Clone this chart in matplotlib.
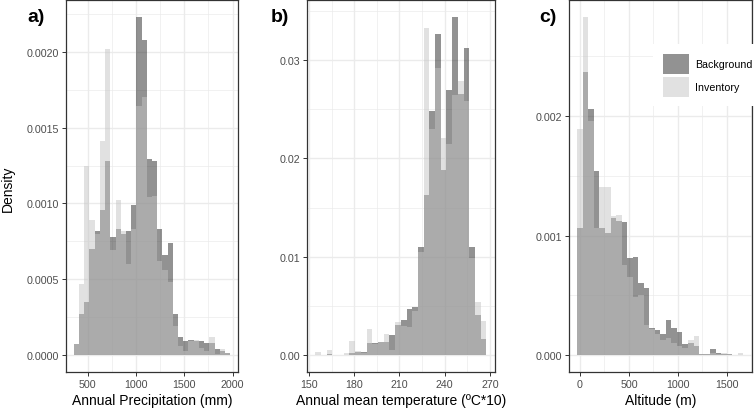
import numpy as np
import matplotlib
matplotlib.use("Agg")
import matplotlib.pyplot as plt
from matplotlib.patches import Patch

plt.rcParams['font.family'] = ['Liberation Sans', 'DejaVu Sans']

# histogram densities, 30 bins per variable
precip_range = (355, 1975)
precip_background = [0.00007, 0.00027, 0.00035, 0.00070, 0.00082, 0.00096, 0.00128, 0.00078, 0.00083, 0.00080,
                     0.00082, 0.00099, 0.00223, 0.00208, 0.00129, 0.00128, 0.00083, 0.00066, 0.00074, 0.00027,
                     0.00012, 0.000094, 0.00010, 0.00009, 0.00009, 0.00008, 0.00008, 0.00004, 0.00003, 0.000015]
precip_inventory = [0.00007, 0.00047, 0.00125, 0.00089, 0.00080, 0.00141, 0.00202, 0.00069, 0.00102, 0.00082,
                    0.00060, 0.00083, 0.00164, 0.00170, 0.00104, 0.00105, 0.00062, 0.00056, 0.00048, 0.00019,
                    0.00006, 0.00003, 0.000095, 0.00010, 0.00005, 0.00003, 0.00012, 0.00001, 0.00004, 0.000015]

temp_range = (154.2, 267.6)
temp_background = [0, 0, 0.0001, 0, 0, 0.00003, 0.00025, 0.00027, 0.00027, 0.00125,
                   0.0012, 0.00135, 0.00135, 0.0020, 0.0031, 0.0036, 0.0047, 0.0049, 0.01095, 0.0163,
                   0.0248, 0.0327, 0.0188, 0.0270, 0.0344, 0.0266, 0.0312, 0.0110, 0.0041, 0.0016]
temp_inventory = [0.00035, 0, 0.00055, 0, 0, 0.00024, 0.00142, 0.00037, 0.00024, 0.0027,
                  0.0011, 0.0013, 0.0021, 0.00047, 0.0034, 0.0030, 0.0029, 0.0045, 0.0105, 0.0333,
                  0.0230, 0.0292, 0.0221, 0.0215, 0.0265, 0.0279, 0.0258, 0.0099, 0.0054, 0.0035]

alt_range = (-27.6, 1670.6)
alt_background = [0.00106, 0.00237, 0.00206, 0.00154, 0.00106, 0.00102, 0.00115, 0.00112, 0.00111, 0.00081,
                  0.00082, 0.00060, 0.00056, 0.00023, 0.00021, 0.00018, 0.00029, 0.00023, 0.00019, 0.00009,
                  0.00010, 0.00008, 0.00001, 0.00001, 0.00005, 0.00002, 0.000005, 0.000005, 0, 0]
alt_inventory = [0.00189, 0.00283, 0.00196, 0.00106, 0.00141, 0.00141, 0.00116, 0.00117, 0.00075, 0.00065,
                 0.00049, 0.00050, 0.00025, 0.00022, 0.00018, 0.00013, 0.00014, 0.00010, 0.00008, 0.00006,
                 0.00013, 0.00016, 0.00001, 0.00001, 0.00002, 0.00001, 0.000017, 0.000008, 0, 0.00002]

precip_xticks = [500, 1000, 1500, 2000]
precip_yticks = [0, 0.0005, 0.0010, 0.0015, 0.0020]
temp_xticks = [150, 180, 210, 240, 270]
temp_yticks = [0, 0.01, 0.02, 0.03]
alt_xticks = [0, 500, 1000, 1500]
alt_yticks = [0, 0.001, 0.002]

group_labels = ['Background', 'Inventory']
panel_tags = ['a)', 'b)', 'c)']

BG_COLOR = '#272727'
INV_COLOR = '#c5c5c5'
GRID = '#ebebeb'
DARK = '#333333'

W, H = 754, 414
fig = plt.figure(figsize=(W / 100, H / 100), dpi=100)
fig.patch.set_facecolor('white')


def px_rect(left, top, right, bottom):
    return [left / W, 1 - bottom / H, (right - left) / W, (bottom - top) / H]


def midpoints(ticks):
    step = ticks[1] - ticks[0]
    return [t + step / 2 for t in [ticks[0] - step] + list(ticks)]


def draw_panel(ax, rng, bg, inv, xticks, yticks, ydec, xlabel):
    edges = np.linspace(rng[0], rng[1], len(bg) + 1)
    ax.bar(edges[:-1], bg, width=np.diff(edges), align='edge', color=BG_COLOR,
           alpha=0.5, linewidth=0, zorder=2)
    ax.bar(edges[:-1], inv, width=np.diff(edges), align='edge', color=INV_COLOR,
           alpha=0.5, linewidth=0, zorder=3)

    ax.set_xticks(xticks)
    ax.set_yticks(yticks)
    ax.set_yticklabels([f'{v:.{ydec}f}' for v in yticks])
    ax.set_xticks(midpoints(xticks), minor=True)
    ax.set_yticks(midpoints(yticks), minor=True)

    # ggplot-style 5% expansion, set after the ticks so they don't widen it
    span = rng[1] - rng[0]
    ax.set_xlim(rng[0] - 0.05 * span, rng[1] + 0.05 * span)
    top = max(max(bg), max(inv))
    ax.set_ylim(-0.05 * top, 1.05 * top)

    ax.grid(which='major', color=GRID, linewidth=1.0, zorder=0)
    ax.grid(which='minor', color=GRID, linewidth=0.5, zorder=0)
    ax.set_axisbelow(True)

    ax.tick_params(which='major', direction='out', length=3, width=0.7, color=DARK,
                   labelcolor='#4d4d4d', labelsize=7.7, pad=2)
    ax.tick_params(which='minor', length=0)
    for spine in ax.spines.values():
        spine.set_color(DARK)
        spine.set_linewidth(0.9)

    ax.set_xlabel(xlabel, fontsize=10, color='black', labelpad=3)


ax_a = fig.add_axes(px_rect(66, 1, 238, 373))
ax_b = fig.add_axes(px_rect(306.7, 1, 495, 373))
ax_c = fig.add_axes(px_rect(569, 1, 751.7, 373))

draw_panel(ax_a, precip_range, precip_background, precip_inventory,
           precip_xticks, precip_yticks, 4, 'Annual Precipitation (mm)')
draw_panel(ax_b, temp_range, temp_background, temp_inventory,
           temp_xticks, temp_yticks, 2, 'Annual mean temperature (ºC*10)')
draw_panel(ax_c, alt_range, alt_background, alt_inventory,
           alt_xticks, alt_yticks, 3, 'Altitude (m)')

fig.text(8 / W, 1 - 189 / H, 'Density', rotation=90, ha='center', va='center', fontsize=10)

for tag, x in zip(panel_tags, (27, 271, 539)):
    fig.text(x / W, 1 - 18 / H, tag, ha='left', va='center', fontsize=14, fontweight='bold')

handles = [Patch(facecolor=BG_COLOR, alpha=0.5, linewidth=0),
           Patch(facecolor=INV_COLOR, alpha=0.5, linewidth=0)]
leg = ax_c.legend(handles, group_labels, loc='upper left',
                  bbox_to_anchor=(653 / W, 1 - 45 / H), bbox_transform=fig.transFigure,
                  frameon=True, fancybox=False, framealpha=1, edgecolor='white',
                  fontsize=7.7, handlelength=2.5, handleheight=2.5, labelspacing=0.3,
                  handletextpad=0.5, borderpad=0.9, borderaxespad=0)
leg.get_frame().set_linewidth(0)
leg.set_zorder(10)

fig.savefig('out.png', dpi=100, facecolor='white')
